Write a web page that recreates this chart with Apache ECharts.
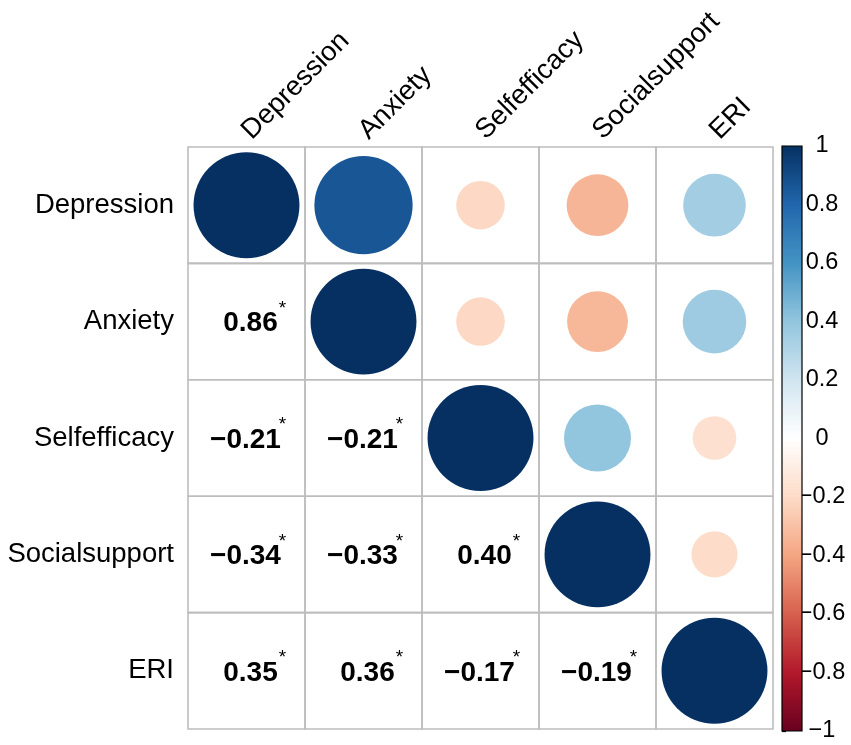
<!DOCTYPE html>
<html>
<head>
<meta charset="utf-8">
<script src="https://cdn.jsdelivr.net/npm/echarts@6/dist/echarts.min.js"></script>
<style>
html,body{margin:0;padding:0;background:#fff;}
#chart{width:851px;height:745px;}
</style>
</head>
<body>
<div id="chart"></div>
<script>
// Variables (rows/columns of the correlation matrix)
const variables = ['Depression', 'Anxiety', 'Selfefficacy', 'Socialsupport', 'ERI'];
// Correlation rows
const depression    = [1.00, 0.86, -0.21, -0.34, 0.35];
const anxiety       = [0.86, 1.00, -0.21, -0.33, 0.36];
const selfefficacy  = [-0.21, -0.21, 1.00, 0.40, -0.17];
const socialsupport = [-0.34, -0.33, 0.40, 1.00, -0.19];
const eri           = [0.35, 0.36, -0.17, -0.19, 1.00];
// Significance flags (lower triangle shows an asterisk)
const significant = [
  [0, 0, 0, 0, 0],
  [1, 0, 0, 0, 0],
  [1, 1, 0, 0, 0],
  [1, 1, 1, 0, 0],
  [1, 1, 1, 1, 0]
];
// Colour bar ticks
const colorbarTicks = [-1, -0.8, -0.6, -0.4, -0.2, 0, 0.2, 0.4, 0.6, 0.8, 1];

const palette = ['#67001F', '#B2182B', '#D6604D', '#F4A582', '#FDDBC7', '#FFFFFF',
                 '#D1E5F0', '#92C5DE', '#4393C3', '#2166AC', '#053061'];

const rows = [depression, anxiety, selfefficacy, socialsupport, eri];
const cells = [];
rows.forEach((row, r) => row.forEach((v, c) => cells.push([c, r, v, significant[r][c]])));

const fmt = v => v.toFixed(2).replace('-', '\u2212');
const FONT = '"Liberation Sans", Arial, sans-serif';

const chart = echarts.init(document.getElementById('chart'));
chart.setOption({
  backgroundColor: '#fff',
  animation: false,
  grid: [
    { left: 188, top: 147, width: 585, height: 582 },
    { left: 782, top: 146, width: 20, height: 585 }
  ],
  xAxis: [
    {
      type: 'category', gridIndex: 0, position: 'top', data: variables,
      axisLine: { show: false }, axisTick: { show: false }, splitLine: { show: false },
      axisLabel: { rotate: -45, fontSize: 27.5, color: '#000', fontFamily: FONT, margin: 12 }
    },
    { type: 'value', gridIndex: 1, min: 0, max: 1, show: false }
  ],
  yAxis: [
    {
      type: 'category', gridIndex: 0, inverse: true, data: variables,
      axisLine: { show: false }, axisTick: { show: false }, splitLine: { show: false },
      axisLabel: { fontSize: 27.5, color: '#000', fontFamily: FONT, margin: 14 }
    },
    {
      type: 'value', gridIndex: 1, position: 'right', min: -1, max: 1, interval: 0.2,
      axisLine: { show: false }, splitLine: { show: false },
      axisTick: { show: true, inside: false, length: 4, lineStyle: { color: '#000', width: 1.2 } },
      axisLabel: {
        fontSize: 23.5, color: '#000', fontFamily: FONT, margin: 20, align: 'center',
        formatter: v => {
          const t = colorbarTicks.find(k => Math.abs(k - v) < 1e-6);
          return String(t === undefined ? v : t).replace('-', '\u2212');
        }
      }
    }
  ],
  visualMap: {
    type: 'continuous', show: false, min: -1, max: 1, dimension: 2, seriesIndex: 0,
    inRange: { color: palette }
  },
  series: [
    {
      type: 'custom', xAxisIndex: 0, yAxisIndex: 0, data: cells,
      encode: { x: 0, y: 1 },
      renderItem: (params, api) => {
        const c = api.value(0), r = api.value(1), v = api.value(2), sig = api.value(3);
        const p = api.coord([c, r]);
        const sz = api.size([1, 1]);
        const w = sz[0], h = sz[1];
        const children = [{
          type: 'rect',
          shape: { x: p[0] - w / 2, y: p[1] - h / 2, width: w, height: h },
          style: { fill: 'none', stroke: '#bdbdbd', lineWidth: 1.6 }
        }];
        if (c >= r) {
          children.push({
            type: 'circle',
            shape: { cx: p[0], cy: p[1], r: 0.455 * Math.min(w, h) * Math.sqrt(Math.abs(v)) },
            style: { fill: api.visual('color') }
          });
        } else {
          children.push({
            type: 'text',
            style: {
              x: p[0] + (v < 0 ? -1 : 4), y: p[1] + 2, text: fmt(v), fill: '#000',
              font: 'bold 28px ' + FONT, align: 'center', verticalAlign: 'middle'
            }
          });
          if (sig) {
            children.push({
              type: 'text',
              style: {
                x: p[0] + 36, y: p[1] - 13, text: '*', fill: '#000',
                font: '19px ' + FONT, align: 'center', verticalAlign: 'middle'
              }
            });
          }
        }
        return { type: 'group', children };
      }
    },
    {
      type: 'custom', xAxisIndex: 1, yAxisIndex: 1, data: [[0, 0]], silent: true,
      renderItem: (params, api) => {
        const tl = api.coord([0, 1]);
        const br = api.coord([1, -1]);
        const stops = palette.slice().reverse().map((col, i) => ({ offset: i / (palette.length - 1), color: col }));
        return {
          type: 'rect',
          shape: { x: tl[0], y: tl[1], width: br[0] - tl[0], height: br[1] - tl[1] },
          style: {
            fill: new echarts.graphic.LinearGradient(0, 0, 0, 1, stops),
            stroke: '#000', lineWidth: 1.2
          }
        };
      }
    }
  ]
});
</script>
</body>
</html>
